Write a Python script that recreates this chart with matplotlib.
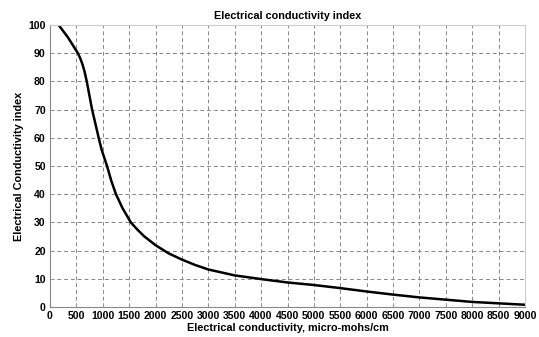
import matplotlib
matplotlib.use("Agg")
import matplotlib.pyplot as plt

ec = [162, 339, 527, 570, 610, 650, 696, 797, 922, 979, 1080, 1160, 1249, 1375, 1531, 1657, 1782,
      2000, 2250, 2500, 2750, 3000, 3500, 4000, 4500, 5000, 5500, 6000, 6500, 7000, 7500, 8000, 8500, 9000]
index = [100, 95.6, 90, 88.3, 86.3, 83.8, 80, 70, 60, 55.7, 50, 44.8, 40, 35, 30, 27.4, 25.1,
         21.9, 19.0, 16.8, 14.9, 13.3, 11.2, 9.9, 8.7, 7.8, 6.7, 5.5, 4.4, 3.4, 2.6, 1.8, 1.3, 0.8]
xticks = list(range(0, 9001, 500))
yticks = list(range(0, 101, 10))

plt.rcParams['font.family'] = ['Liberation Sans', 'DejaVu Sans']
fig = plt.figure(figsize=(5.39, 3.37), dpi=100)
ax = fig.add_axes([0.0928, 0.089, 0.8812, 0.837])
ax.plot(ec, index, color='black', lw=1.8, solid_joinstyle='round')
ax.set_xlim(0, 9000)
ax.set_ylim(0, 100)
ax.set_xticks(xticks)
ax.set_yticks(yticks)
ax.tick_params(labelsize=7.6, direction='in', length=3, color='#999999', pad=3)
for lab in ax.get_xticklabels() + ax.get_yticklabels():
    lab.set_fontweight('bold')
ax.grid(True, color='#888888', ls=(0, (4, 3)), lw=0.7)
for s in ['left', 'bottom']:
    ax.spines[s].set_color('#888888')
for s in ['right', 'top']:
    ax.spines[s].set_color('#cccccc')
ax.set_title('Electrical conductivity index', fontsize=7.8, fontweight='bold', pad=4)
ax.set_xlabel('Electrical conductivity, micro-mohs/cm', fontsize=7.8, fontweight='bold', labelpad=1)
ax.set_ylabel('Electrical Conductivity index', fontsize=7.8, fontweight='bold', labelpad=3)
fig.savefig('out.png', dpi=100)
